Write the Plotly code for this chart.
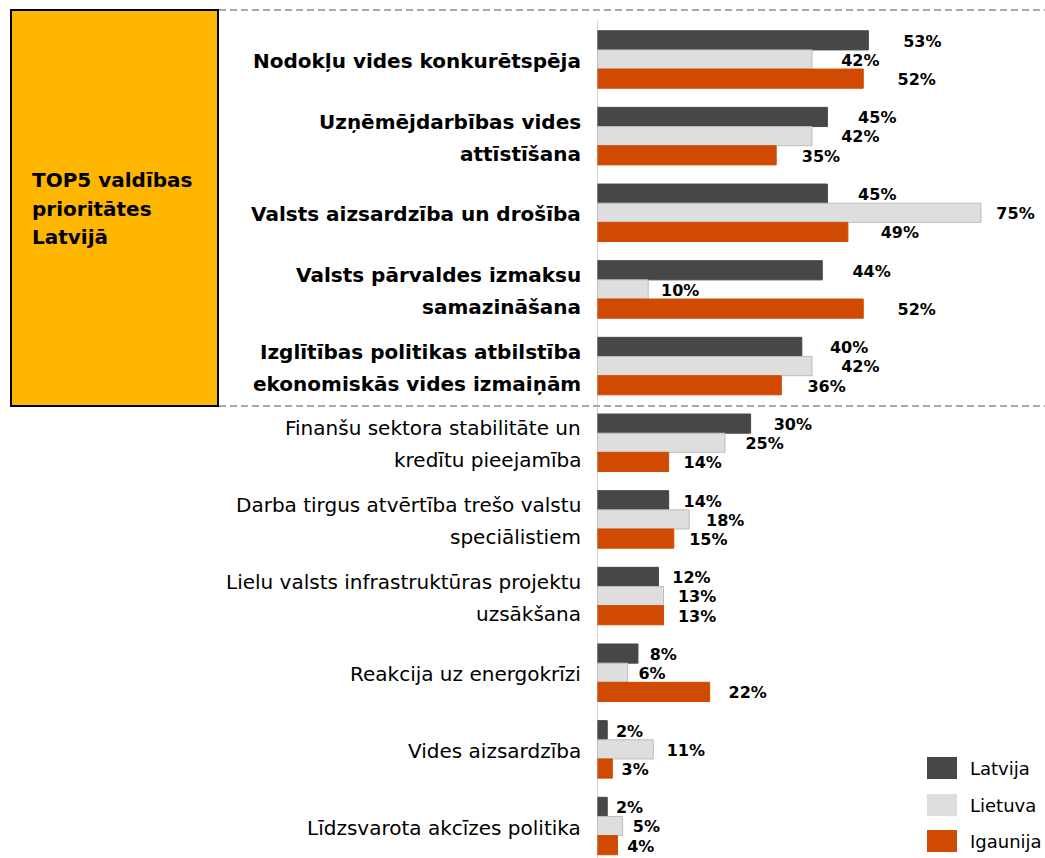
import plotly.graph_objects as go

# 데이터
categories = [
    "<b>Nodokļu vides konkurētspēja</b>",
    "<b>Uzņēmējdarbības vides<br>attīstīšana</b>",
    "<b>Valsts aizsardzība un drošība</b>",
    "<b>Valsts pārvaldes izmaksu<br>samazināšana</b>",
    "<b>Izglītības politikas atbilstība<br>ekonomiskās vides izmaiņām</b>",
    "Finanšu sektora stabilitāte un<br>kredītu pieejamība",
    "Darba tirgus atvērtība trešo valstu<br>speciālistiem",
    "Lielu valsts infrastruktūras projektu<br>uzsākšana",
    "Reakcija uz energokrīzi",
    "Vides aizsardzība",
    "Līdzsvarota akcīzes politika",
]
latvija = [53, 45, 45, 44, 40, 30, 14, 12, 8, 2, 2]
lietuva = [42, 42, 75, 10, 42, 25, 18, 13, 6, 11, 5]
igaunija = [52, 35, 49, 52, 36, 14, 15, 13, 22, 3, 4]
series_names = ["Latvija", "Lietuva", "Igaunija"]
box_lines = ["TOP5 valdības", "prioritātes", "Latvijā"]

colors = ["#474747", "#dedede", "#d04a02"]
FONT = "DejaVu Sans"
W, H = 1045, 858
AX = 597  # 세로축 위치 (px)
PLOT_W = W - AX

# 픽셀 -> paper 좌표
def px(x):
    return (x - AX) / PLOT_W

def py(y):
    return 1 - y / H

ys = list(range(len(categories)))
fig = go.Figure()

for name, vals, col in zip(series_names, [latvija, lietuva, igaunija], colors):
    fig.add_trace(go.Bar(
        x=vals, y=ys, orientation='h', name=name,
        marker=dict(color=col, line=dict(color='#bdbdbd' if name == 'Lietuva' else col, width=1)),
        showlegend=False, hoverinfo='x'
    ))

# 값 라벨 (막대 오른쪽)
offsets = [-0.25, 0, 0.25]
for vals, off in zip([latvija, lietuva, igaunija], offsets):
    fig.add_trace(go.Scatter(
        x=[min(v * 1.1 + 1.5, 78) for v in vals],
        y=[i + off + 0.03 for i in ys],
        mode='text', text=[f"<b>{v}%</b>" for v in vals],
        textposition='middle right',
        textfont=dict(family=FONT, size=16, color='black'),
        showlegend=False, hoverinfo='skip', cliponaxis=False
    ))

annotations = []
# 카테고리 라벨 (줄 간격 조정을 위해 한 줄씩)
for i, label in enumerate(categories):
    bold = label.startswith("<b>")
    lines = label.replace("<b>", "").replace("</b>", "").split("<br>")
    n = len(lines)
    for k, line in enumerate(lines):
        yy = i + 0.02 + (k - (n - 1) / 2) * 0.42
        annotations.append(dict(
            x=px(583), xref='paper', y=yy, yref='y',
            text=f"<b>{line}</b>" if bold else line,
            xanchor='right', yanchor='middle', showarrow=False,
            font=dict(family=FONT, size=20, color='black')
        ))

# TOP5 박스 텍스트
for k, line in enumerate(box_lines):
    annotations.append(dict(
        x=px(30), xref='paper', y=py(180 + 28.5 * k), yref='paper', text=f"<b>{line}</b>",
        xanchor='left', yanchor='middle', align='left', showarrow=False,
        font=dict(family=FONT, size=20, color='black')
    ))

# 범례 (수동)
shapes = []
leg_y = [768, 805, 841]
for name, col, yc in zip(series_names, colors, leg_y):
    shapes.append(dict(type='rect', xref='paper', yref='paper',
                       x0=px(927), x1=px(957), y0=py(yc - 11), y1=py(yc + 11),
                       fillcolor=col, line=dict(width=0)))
    annotations.append(dict(x=px(968), xref='paper', y=py(yc), yref='paper', text=name,
                            xanchor='left', yanchor='middle', showarrow=False,
                            font=dict(family=FONT, size=18, color='black')))

# 노란 박스, 점선, 축선
shapes.append(dict(type='rect', xref='paper', yref='paper',
                   x0=px(11), x1=px(218), y0=py(406), y1=py(10),
                   fillcolor='#ffb600', line=dict(color='black', width=2), layer='below'))
for yl in [10, 406]:
    shapes.append(dict(type='line', xref='paper', yref='paper',
                       x0=px(219), x1=1, y0=py(yl), y1=py(yl),
                       line=dict(color='#8c8c8c', width=1.5, dash='7px,4px')))
shapes.append(dict(type='line', xref='x', yref='paper', x0=0, x1=0,
                   y0=py(20), y1=0, line=dict(color='#b0b0b0', width=1)))

fig.update_layout(
    width=W, height=H,
    margin=dict(l=AX, r=0, t=0, b=0, pad=0),
    paper_bgcolor='white', plot_bgcolor='white',
    barmode='group', bargap=0.25, bargroupgap=0,
    xaxis=dict(range=[0, PLOT_W / 5.12], visible=False, fixedrange=True),
    yaxis=dict(range=[10.417, -0.776], visible=False, fixedrange=True),
    annotations=annotations, shapes=shapes,
    font=dict(family=FONT)
)

# body 기본 여백 제거
fig.write_html("out.html", config={'displayModeBar': False},
               post_script="document.body.style.margin='0';document.body.style.overflow='hidden';")
